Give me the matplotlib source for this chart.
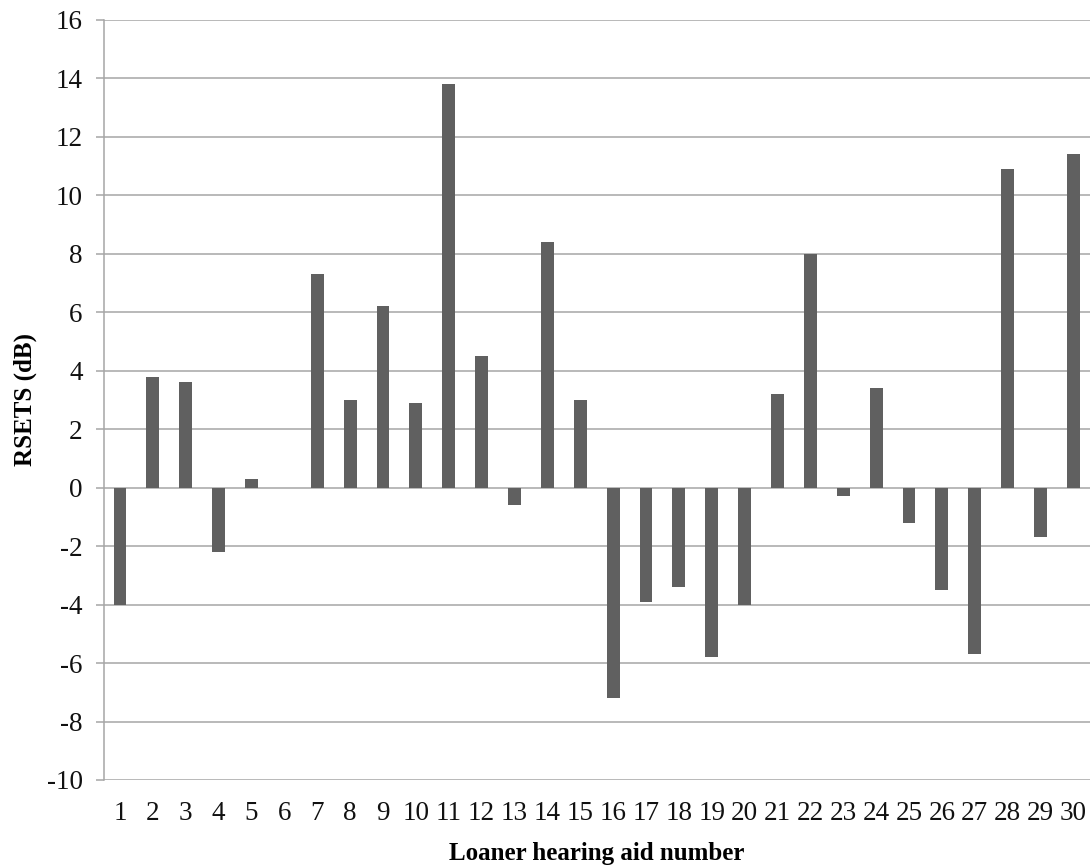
import matplotlib
matplotlib.use("Agg")
import matplotlib.pyplot as plt

aid_numbers = list(range(1, 31))
rsets_db = [-4.0, 3.8, 3.6, -2.2, 0.3, 0.0, 7.3, 3.0, 6.2, 2.9,
            13.8, 4.5, -0.6, 8.4, 3.0, -7.2, -3.9, -3.4, -5.8, -4.0,
            3.2, 8.0, -0.3, 3.4, -1.2, -3.5, -5.7, 10.9, -1.7, 11.4]
y_ticks = list(range(-10, 17, 2))

plt.rcParams['font.family'] = ['Liberation Serif', 'DejaVu Serif']

fig = plt.figure(figsize=(10.91, 8.65), dpi=100)
ax = fig.add_axes([0.0949, 0.0983, 0.9040, 0.8786])

grid_color = '#a6a6a6'
ax.bar(aid_numbers, rsets_db, width=0.39, color='#606060', zorder=3)

ax.set_xlim(0.5, 30.5)
ax.set_ylim(-10, 16)
ax.set_yticks(y_ticks)
ax.set_yticklabels([str(v) for v in y_ticks])
ax.set_xticks(aid_numbers)
ax.set_xticklabels([str(v) for v in aid_numbers])

ax.yaxis.grid(True, color=grid_color, linewidth=1.1, zorder=0)
ax.set_axisbelow(True)

for s in ['top', 'right', 'bottom']:
    ax.spines[s].set_visible(False)
ax.spines['left'].set_color(grid_color)
ax.spines['left'].set_linewidth(1.1)

ax.tick_params(axis='y', length=6, width=1.1, color=grid_color, pad=9,
               labelsize=19.5, labelcolor='#111111')
ax.tick_params(axis='x', length=0, pad=15, labelsize=19.5, labelcolor='#111111')

ax.set_ylabel('RSETS (dB)', fontsize=18, fontweight='bold', labelpad=7)
ax.set_xlabel('Loaner hearing aid number', fontsize=18, fontweight='bold', labelpad=12)

fig.savefig('out.png', dpi=100, facecolor='white')
